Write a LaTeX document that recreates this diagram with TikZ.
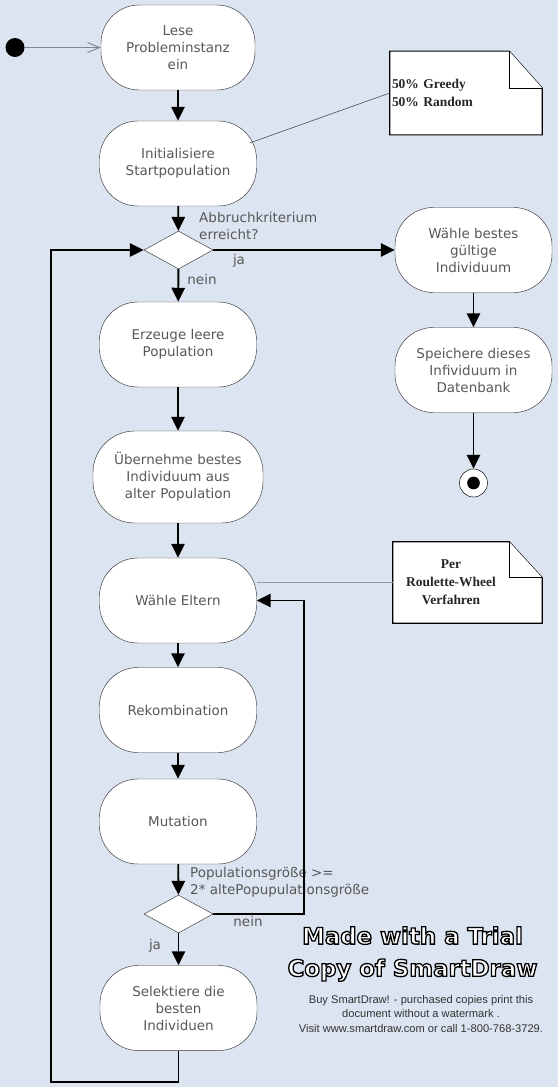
\documentclass[tikz,border=0pt]{standalone}
\usepackage{fontspec}
\usetikzlibrary{shapes.geometric,arrows.meta,calc,backgrounds}

\newfontfamily\flowfont{DejaVu Sans}
\newfontfamily\notefont{Liberation Serif}
\newfontfamily\markfont{Liberation Sans}

\definecolor{bgblue}{RGB}{219,228,240}
\definecolor{textgrey}{RGB}{88,88,88}
\definecolor{framegrey}{RGB}{55,55,55}
\definecolor{startgrey}{RGB}{125,135,145}
% outlined letters: fill white, stroke black
\newcommand{\outlined}[1]{\special{pdf:literal direct 2 Tr 1.1 w 0 0 0 RG}#1\special{pdf:literal direct 0 Tr}}

\begin{document}
\begin{tikzpicture}[x=0.03cm, y=-0.03cm,
	activity/.style={draw=framegrey, fill=white, rounded corners=1.15cm, minimum width=4.71cm, minimum height=2.55cm, inner sep=0pt, align=center, text=textgrey, font=\flowfont\fontsize{11.5}{14.5}\selectfont},
	decision/.style={draw=framegrey, fill=white, diamond, minimum width=2.07cm, minimum height=1.14cm, inner sep=0pt},
	guard/.style={inner sep=0pt, text=textgrey, font=\flowfont\fontsize{11.5}{14.5}\selectfont},
	flow/.style={-{Triangle[length=0.42cm,width=0.4cm]}, line width=1.6pt},
	notebox/.style={inner xsep=0.06cm, inner ysep=0pt, minimum height=2.5cm, text=black!85, font=\notefont\bfseries\fontsize{11.5}{15.5}\selectfont},
	notefold/.style={draw=black, fill=white, line width=1pt, line join=miter}
]
	% Background
	\begin{scope}[on background layer]
		\fill[bgblue] (0,0) rectangle (558,1087);
	\end{scope}

	% Start and end
	\node[circle, fill=black, minimum size=0.57cm, inner sep=0pt] (start) at (15,47.5) {};
	\node[circle, draw=black, fill=white, minimum size=0.84cm, inner sep=0pt,
		path picture={\fill[black] (path picture bounding box.center) circle (0.19cm);}] (stop) at (473.5,483) {};

	% Main column
	\node[activity, minimum width=4.62cm] (read) at (178,47.5) {Lese\\Probleminstanz\\ein};
	\node[activity] (init) at (178,163.5) {Initialisiere\\Startpopulation};
	\node[decision] (check) at (178.5,250) {};
	\node[activity] (empty) at (178,344.5) {Erzeuge leere\\Population};
	\node[activity, minimum width=5.1cm, minimum height=2.76cm, rounded corners=1.25cm] (keep) at (178,477) {Übernehme bestes\\Individuum aus\\alter Population};
	\node[activity] (parents) at (178,600.5) {Wähle Eltern};
	\node[activity] (recomb) at (178,710) {Rekombination};
	\node[activity] (mutate) at (178,821.5) {Mutation};
	\node[decision] (popcheck) at (178.5,914) {};
	\node[activity] (select) at (178.5,1008) {Selektiere die\\besten\\Individuen};

	% Right column
	\node[activity] (best) at (473.5,250) {Wähle bestes\\gültige\\Individuum};
	\node[activity] (store) at (473.5,370) {Speichere dieses\\Infividuum in\\Datenbank};

	% Notes
	\node[notebox, minimum width=3.57cm, text width=3.45cm, align=left] (greedy) at (449.5,93) {50\% Greedy\\50\% Random};
	\node[notebox, minimum width=3.48cm, text width=3.36cm, minimum height=2.43cm, align=center] (roulette) at (451,582.5) {Per\\Roulette-Wheel\\Verfahren};
	\begin{scope}[on background layer]
		\draw[notefold] (greedy.north west) -- (greedy.north east) -- ++(33,37) |- (greedy.south west) -- cycle;
		\draw[notefold] (greedy.north east) -- ++(0,37) -- ++(33,0);
		\draw[notefold] (roulette.north west) -- (roulette.north east) -- ++(33,36) |- (roulette.south west) -- cycle;
		\draw[notefold] (roulette.north east) -- ++(0,36) -- ++(33,0);
	\end{scope}

	% Guards
	\node[guard, anchor=west, align=left] (abortlabel) at (199,225.5) {Abbruchkriterium\\erreicht?};
	\node[guard] (yes1) at (239,261) {ja};
	\node[guard] (no1) at (202,279) {nein};
	\node[guard, anchor=west, align=left] (sizelabel) at (190,882) {Populationsgröße >=\\2* altePopupulationsgröße};
	\node[guard] (no2) at (248,921) {nein};
	\node[guard] (yes2) at (155,946) {ja};

	% Connections
	\coordinate (loopcorner) at (51,1082);
	\coordinate (backcorner) at (304,600.5);
	\draw[-{Straight Barb[length=0.36cm,width=0.3cm]}, startgrey, line width=0.8pt] (start) -- (read);
	\draw[flow] (read) -- (init);
	\draw[flow] (init) -- (check);
	\draw[flow] (check) -- (best);
	\draw[flow] (check) -- (empty);
	\draw[flow] (best) -- (store);
	\draw[flow] (store) -- (stop);
	\draw[flow] (empty) -- (keep);
	\draw[flow] (keep) -- (parents);
	\draw[flow] (parents) -- (recomb);
	\draw[flow] (recomb) -- (mutate);
	\draw[flow] (mutate) -- (popcheck);
	\draw[flow] (popcheck) -- (select);
	\draw[flow] (popcheck.east) -| (backcorner) -- (parents.east);
	\draw[flow] (select.south) |- (loopcorner) |- (check.west);
	\draw[gray!60!black, line width=0.5pt] ([xshift=-0.2cm,yshift=0.62cm]init.east) -- (greedy.west);
	\draw[gray!80, line width=0.5pt] (roulette.west -| parents.east) -- (roulette.west);

	% Watermark
	\node[text=white, align=center, font=\flowfont\bfseries\fontsize{19.5}{27.5}\selectfont] (trial) at (412.5,954) {\outlined{Made with a Trial}\\\outlined{Copy of SmartDraw}};
	\node[text=black!80, align=center, font=\markfont\fontsize{9.5}{12}\selectfont] (buy) at (421,1014) {Buy SmartDraw! - purchased copies print this\\document without a watermark .\\Visit www.smartdraw.com or call 1-800-768-3729.};
\end{tikzpicture}
\end{document}
